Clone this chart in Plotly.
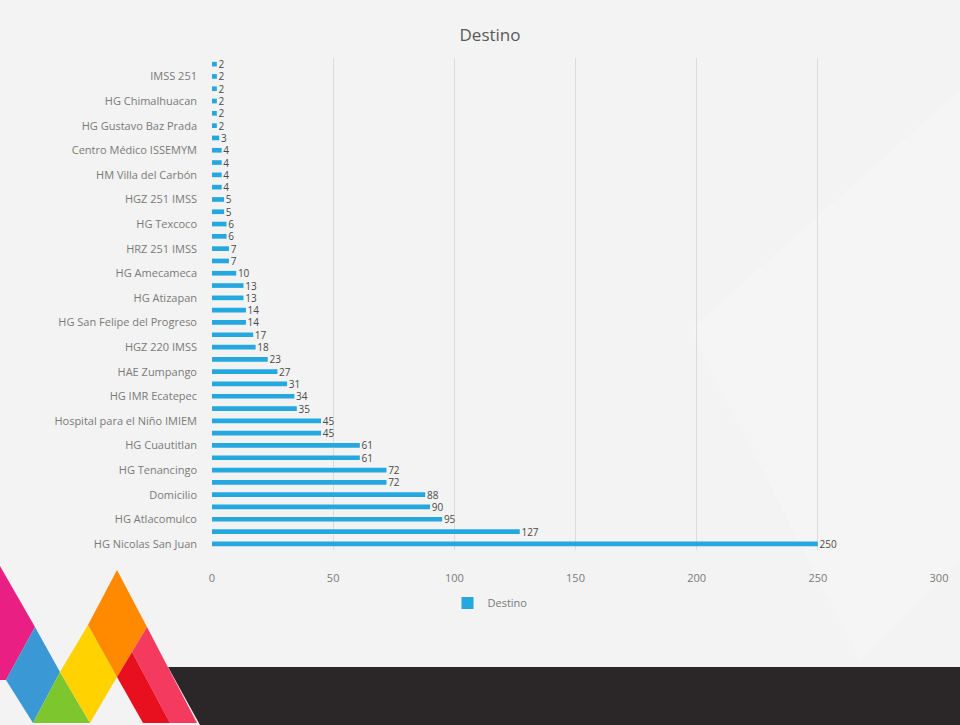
import plotly.graph_objects as go

# Destination counts, ordered bottom (largest) to top (smallest)
values = [250, 127, 95, 90, 88, 72, 72, 61, 61, 45, 45, 35, 34, 31, 27, 23,
          18, 17, 14, 14, 13, 13, 10, 7, 7, 6, 6, 5, 5, 4, 4, 4, 4, 3,
          2, 2, 2, 2, 2, 2]

# Axis labels shown on every other bar, bottom to top
tick_labels = ["HG Nicolas San Juan", "HG Atlacomulco", "Domicilio", "HG Tenancingo",
               "HG Cuautitlan", "Hospital para el Niño IMIEM", "HG IMR Ecatepec",
               "HAE Zumpango", "HGZ 220 IMSS", "HG San Felipe del Progreso",
               "HG Atizapan", "HG Amecameca", "HRZ 251 IMSS", "HG Texcoco",
               "HGZ 251 IMSS", "HM Villa del Carbón", "Centro Médico ISSEMYM",
               "HG Gustavo Baz Prada", "HG Chimalhuacan", "IMSS 251"]

x_ticks = [0, 50, 100, 150, 200, 250, 300]
series_name = "Destino"

positions = list(range(len(values)))
tick_positions = positions[::2][:len(tick_labels)]

W, H = 960, 725
L, R, T, B = 212, 939, 58, 550   # plot area in pixels


def px(x, y):
    return (x - L) / (R - L), (B - y) / (B - T)


def poly(points, color, opacity=1.0):
    path = ""
    for i, (x, y) in enumerate(points):
        u, v = px(x, y)
        path += ("M" if i == 0 else "L") + f"{u:.5f},{v:.5f} "
    path += "Z"
    return dict(type="path", path=path, xref="paper", yref="paper",
                fillcolor=color, opacity=opacity, line=dict(width=0),
                layer="below")


fig = go.Figure()
fig.add_trace(go.Bar(
    x=values, y=positions, orientation="h", name=series_name,
    marker=dict(color="#25A8E0", line=dict(width=0)),
    text=["\u2009" + str(v) for v in values], textposition="outside",
    constraintext="none",
    textfont=dict(family="Open Sans", size=10, color="#4A4A4A"),
    cliponaxis=False, width=0.38,
))

shapes = [
    # soft light facet on the background
    poly([(690, 330), (960, 90), (960, 560), (860, 660)], "#FFFFFF", 0.22),
    # dark footer band
    poly([(168, 667), (960, 667), (960, 725), (200, 725)], "#2B2627"),
    # coloured ribbon motif
    poly([(0, 566), (35, 627), (6, 680), (0, 680)], "#EA1F84"),
    poly([(35, 627), (60, 672), (33, 723), (6, 680)], "#3A98D4"),
    poly([(60, 672), (90, 723), (33, 723)], "#7DC62E"),
    poly([(88, 625), (117, 677), (90, 723), (60, 672)], "#FFD200"),
    poly([(117, 570), (147, 627), (117, 677), (88, 625)], "#FF8A00"),
    poly([(147, 627), (197, 723), (170, 723), (132, 652)], "#F43A5F"),
    poly([(117, 677), (132, 652), (170, 723), (143, 723)], "#E8101E"),
]

fig.update_layout(
    width=W, height=H,
    margin=dict(l=L, r=W - R, t=T, b=H - B, pad=0),
    paper_bgcolor="#F3F3F3", plot_bgcolor="rgba(0,0,0,0)",
    font=dict(family="Open Sans", color="#595959"),
    title=dict(text="Destino", x=490 / W, xref="container", xanchor="center",
               y=1 - 35 / H, yref="container", yanchor="middle",
               font=dict(family="Open Sans", size=17, color="#595959")),
    xaxis=dict(range=[0, 300], tickvals=x_ticks, showgrid=True,
               gridcolor="#DCDCDC", gridwidth=1, zeroline=False,
               showline=False, ticks="", ticklabelstandoff=20,
               tickfont=dict(family="Open Sans", size=11, color="#7A7A7A")),
    yaxis=dict(range=[-0.5, len(values) - 0.5], tickvals=tick_positions,
               ticktext=tick_labels, showgrid=False, zeroline=False,
               showline=False, ticks="", ticklabelstandoff=14,
               tickfont=dict(family="Open Sans", size=11, color="#7A7A7A")),
    showlegend=True,
    legend=dict(orientation="h", x=(490 - L) / (R - L), xanchor="center",
                y=(B - 603) / (B - T), yanchor="middle",
                font=dict(family="Open Sans", size=11, color="#7A7A7A"),
                bgcolor="rgba(0,0,0,0)", itemwidth=30),
    bargap=0.62,
    shapes=shapes,
)

fig.write_html("out.html")
